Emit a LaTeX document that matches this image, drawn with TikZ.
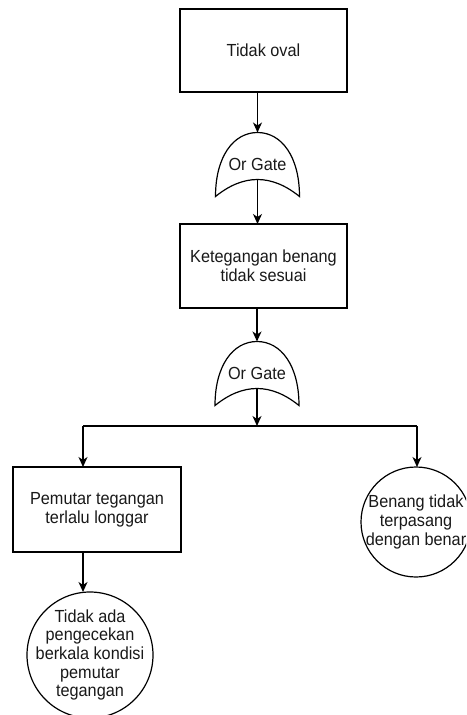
\documentclass[tikz,border=0pt]{standalone}
\usepackage{fontspec}
\setmainfont{Liberation Sans}[FakeStretch=0.93]
\usetikzlibrary{arrows.meta}
\begin{document}
\begin{tikzpicture}[x=1pt,y=-1pt,
  line width=1.2pt,
  txt/.style={font=\fontsize{17.5}{18.7}\selectfont, align=center, text=black!90},
  event/.style={draw, rectangle, minimum width=167pt, minimum height=84pt,
                inner sep=0pt, outer sep=0pt, txt},
  basic/.style={draw, circle, inner sep=0pt, outer sep=0pt},
  gatebox/.style={rectangle, minimum width=84pt, minimum height=64pt,
                  inner sep=0pt, outer sep=0pt, txt},
  arr/.style={-{Stealth[length=10pt,width=9pt,inset=3pt]}}
]
\useasboundingbox (0,0) rectangle (466,715);
\clip (0,0) rectangle (466,715);

% OR gate outline drawn on a gatebox node; #1 = node name
\newcommand\orgateshape[1]{%
  \begin{scope}[shift={(#1.south west)}]
    \draw (0,0) .. controls (0,-40) and (18,-64) .. (42,-64)
                .. controls (66,-64) and (84,-40) .. (84,0)
                .. controls (56,-22.67) and (28,-22.67) .. cycle;
    \coordinate (#1n) at (42,-17);
  \end{scope}}

% events
\node[event, minimum height=83pt] (b1) at (263.5,50.5) {Tidak oval};
\node[gatebox] (g1) at (257.5,164.5) {Or Gate};
\orgateshape{g1}
\node[event] (b2) at (263.5,266) {Ketegangan benang\\tidak sesuai};
\node[gatebox] (g2) at (257,373.5) {Or Gate};
\orgateshape{g2}
\node[event, minimum width=168pt, minimum height=85pt] (b3) at (97,509.5)
  {Pemutar tegangan\\terlalu longgar};

% basic events
\node[basic, minimum size=126pt,
      label={[txt]center:Tidak ada\\pengecekan\\berkala kondisi\\pemutar\\tegangan}]
  (c1) at (90,655) {};
\node[basic, minimum size=110pt,
      label={[txt]center:Benang tidak\\terpasang\\dengan benar}]
  (c2) at (416,522) {};

% connectors
\coordinate (jl) at (83,426);
\coordinate (jr) at (417,426);
\draw[arr] (b1.south -| g1.north) -- (g1.north);
\draw[arr] (g1n) -- (g1n |- b2.north);
\draw[arr] (b2.south -| g2.north) -- (g2.north);
\draw[arr] (g2n) -- (g2n |- jl);
\draw (jl) -- (jr);
\draw[arr] (jl) -- (jl |- b3.north);
\draw[arr] (jr) -- (jr |- c2.north);
\draw[arr] (b3.south -| jl) -- (c1.north -| jl);
\end{tikzpicture}
\end{document}
